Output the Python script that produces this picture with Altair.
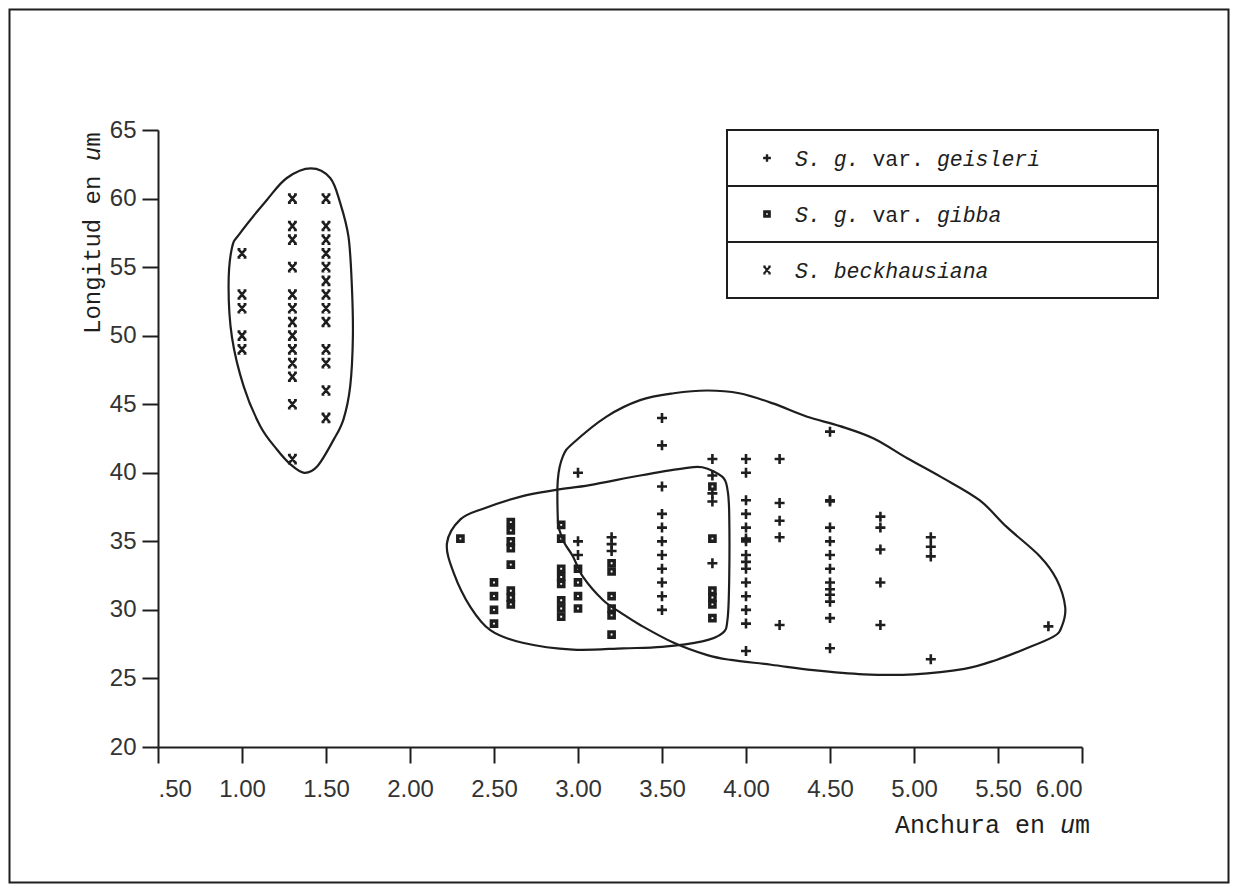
import altair as alt
import pandas as pd

# ---------------- data ----------------
# S. beckhausiana
beck_x = [1.0, 1.0, 1.0, 1.0, 1.0,
          1.3, 1.3, 1.3, 1.3, 1.3, 1.3, 1.3, 1.3, 1.3, 1.3, 1.3, 1.3, 1.3,
          1.5, 1.5, 1.5, 1.5, 1.5, 1.5, 1.5, 1.5, 1.5, 1.5, 1.5, 1.5, 1.5]
beck_y = [56, 53, 52, 50, 49,
          60, 58, 57, 55, 53, 52, 51, 50, 49, 48, 47, 45, 41,
          60, 58, 57, 56, 55, 54, 53, 52, 51, 49, 48, 46, 44]

# S. g. var. gibba
gibba_x = [2.3,
           2.5, 2.5, 2.5, 2.5,
           2.6, 2.6, 2.6, 2.6, 2.6, 2.6, 2.6, 2.6,
           2.9, 2.9, 2.9, 2.9, 2.9, 2.9, 2.9, 2.9,
           3.0, 3.0, 3.0, 3.0,
           3.2, 3.2, 3.2, 3.2, 3.2, 3.2,
           3.8, 3.8, 3.8, 3.8, 3.8, 3.8]
gibba_y = [35.2,
           32.0, 31.0, 30.0, 29.0,
           36.4, 35.8, 35.0, 34.5, 33.3, 31.4, 30.9, 30.4,
           36.2, 35.2, 33.0, 32.4, 31.9, 30.7, 30.1, 29.5,
           33.0, 32.0, 31.0, 30.1,
           33.4, 32.8, 31.0, 30.1, 29.6, 28.2,
           39.0, 35.2, 31.4, 30.9, 30.4, 29.4]

# S. g. var. geisleri
geis_x = [3.0, 3.0, 3.0,
          3.2, 3.2, 3.2,
          3.5, 3.5, 3.5, 3.5, 3.5, 3.5, 3.5, 3.5, 3.5, 3.5, 3.5,
          3.8, 3.8, 3.8, 3.8, 3.8,
          4.0, 4.0, 4.0, 4.0, 4.0, 4.0, 4.0, 4.0, 4.0, 4.0, 4.0, 4.0, 4.0, 4.0, 4.0,
          4.2, 4.2, 4.2, 4.2, 4.2,
          4.5, 4.5, 4.5, 4.5, 4.5, 4.5, 4.5, 4.5, 4.5, 4.5, 4.5, 4.5, 4.5,
          4.8, 4.8, 4.8, 4.8, 4.8,
          5.1, 5.1, 5.1, 5.1,
          5.8]
geis_y = [40, 35, 34,
          35.3, 34.8, 34.3,
          44, 42, 39, 37, 36, 35, 34, 33, 32, 31, 30,
          41, 39.8, 38.5, 37.9, 33.4,
          41, 40, 38, 37, 36, 35.2, 35.0, 34.0, 33.5, 33.0, 32, 31, 30, 29, 27,
          41, 37.8, 36.5, 35.3, 28.9,
          43, 38, 37.9, 36, 35, 34, 33, 32, 31.5, 31.1, 30.6, 29.4, 27.2,
          36.8, 36.0, 34.4, 32.0, 28.9,
          35.3, 34.6, 33.9, 26.4,
          28.8]

# hand-drawn outlines around the groups (data units)
hull_beck_x = [1.41, 1.525, 1.584, 1.634, 1.654, 1.66, 1.644, 1.604, 1.545, 1.45,
               1.37, 1.29, 1.208, 1.109, 1.01, 0.94, 0.92, 0.94, 0.99, 1.148, 1.267]
hull_beck_y = [62.2, 61.5, 59.7, 57.2, 53.6, 49.9, 46.3, 43.9, 42.4, 40.5,
               40.0, 40.6, 41.7, 43.4, 46.3, 49.9, 53.6, 56.4, 57.5, 59.9, 61.5]

hull_gibba_x = [2.22, 2.26, 2.36, 2.48, 2.67, 2.97, 3.27, 3.50, 3.74, 3.86, 3.89, 3.90,
                3.90, 3.89, 3.86, 3.74, 3.62, 3.37, 3.07, 2.87, 2.67, 2.44, 2.30]
hull_gibba_y = [34.86, 32.7, 30.2, 28.5, 27.6, 27.1, 27.2, 27.3, 27.7, 28.3, 29.3, 32.2,
                37.05, 38.75, 39.7, 40.4, 40.3, 39.8, 39.1, 38.75, 38.3, 37.4, 36.6]

hull_geis_x = [2.88, 2.88, 2.91, 2.97, 3.17, 3.37, 3.57, 3.77, 3.96, 4.16, 4.36, 4.56,
               4.76, 4.96, 5.16, 5.39, 5.55, 5.75, 5.85, 5.90, 5.88, 5.83, 5.65, 5.49,
               5.30, 5.00, 4.70, 4.40, 4.15, 3.91, 3.77, 3.57, 3.37, 3.26, 3.15, 3.03,
               2.97, 2.92, 2.89]
hull_geis_y = [36.56, 39.5, 41.2, 42.15, 44.1, 45.3, 45.8, 46.0, 45.8, 45.06, 44.1, 43.4,
               42.5, 41.06, 39.7, 38.0, 36.07, 33.9, 32.2, 30.2, 28.8, 28.05, 27.1, 26.35,
               25.7, 25.3, 25.3, 25.6, 26.0, 26.35, 26.7, 27.6, 28.9, 29.75, 30.7, 32.4,
               33.9, 34.86, 35.8]

x_ticks = [0.5, 1.0, 1.5, 2.0, 2.5, 3.0, 3.5, 4.0, 4.5, 5.0, 5.5, 6.0]
y_ticks = [20, 25, 30, 35, 40, 45, 50, 55, 60, 65]

legend_names = ["S. g. var. geisleri", "S. g. var. gibba", "S. beckhausiana"]
# legend text pieces: (row, char column, text, italic?)
leg_text = [(0, 0, "S.", True), (0, 3, "g.", True), (0, 6, "var.", False), (0, 11, "geisleri", True),
            (1, 0, "S.", True), (1, 3, "g.", True), (1, 6, "var.", False), (1, 11, "gibba", True),
            (2, 0, "S.", True), (2, 3, "beckhausiana", True)]
xtitle_text = [(0, "Anchura", False), (8, "en", False), (11, "u", True), (12, "m", False)]
ytitle_text = [(0, "Longitud", False), (9, "en", False), (12, "u", True), (13, "m", False)]

# ---------------- layout ----------------
W, H = 924, 617
PL, PT = 150, 122
TW, TH = 1222, 876
PR, PB = TW - PL - W, TH - PT - H
INK = "#1e1e1e"
MONO = "Liberation Mono"

LEG_X0, LEG_X1, LEG_ROW = 569, 1000, 56
LEG_SYM_X, LEG_TXT_X = 609, 637
LEG_FS = 21.5
XT_FS = 25
YT_FS = 24

x_scale = alt.Scale(domain=[0.5, 6.0], nice=False, zero=False)
y_scale = alt.Scale(domain=[20, 65], nice=False, zero=False)
x_enc = alt.X("x:Q", scale=x_scale,
              axis=alt.Axis(values=x_ticks, title=None, labelPadding=14,
                            labelExpr="datum.value < 1 ? substring(format(datum.value, '.2f'), 1) : format(datum.value, '.2f')"))
y_enc = alt.Y("y:Q", scale=y_scale, axis=alt.Axis(values=y_ticks, title=None, labelPadding=6))

plus_path = "M-1,0L1,0M0,-1L0,1"
xbar_path = "M-0.75,-0.9L0.75,0.9M0.75,-0.9L-0.75,0.9M-1,-0.9L-0.35,-0.9M0.35,-0.9L1,-0.9M-1,0.9L-0.35,0.9M0.35,0.9L1,0.9"

one = pd.DataFrame({"a": [0]})

frame = alt.Chart(one).mark_rect(filled=False, stroke=INK, strokeWidth=2).encode(
    x=alt.value(-PL + 1.5), x2=alt.value(W + PR - 1.5),
    y=alt.value(-PT + 1.5), y2=alt.value(H + PB - 1.5))

hull_df = pd.concat([
    pd.DataFrame({"x": hull_beck_x, "y": hull_beck_y, "h": "beck", "i": list(range(len(hull_beck_x)))}),
    pd.DataFrame({"x": hull_gibba_x, "y": hull_gibba_y, "h": "gibba", "i": list(range(len(hull_gibba_x)))}),
    pd.DataFrame({"x": hull_geis_x, "y": hull_geis_y, "h": "geis", "i": list(range(len(hull_geis_x)))}),
])
hulls = alt.Chart(hull_df).mark_line(interpolate="cardinal-closed", color=INK, strokeWidth=2.2).encode(
    x=x_enc, y=y_enc, detail="h:N", order="i:Q")

geis = alt.Chart(pd.DataFrame({"x": geis_x, "y": geis_y})).mark_point(
    shape=plus_path, filled=False, color=INK, strokeWidth=2.6, size=100, opacity=1).encode(x=x_enc, y=y_enc)
gibba = alt.Chart(pd.DataFrame({"x": gibba_x, "y": gibba_y})).mark_point(
    shape="square", filled=False, color=INK, strokeWidth=3.4, size=28, opacity=1).encode(x=x_enc, y=y_enc)
beck = alt.Chart(pd.DataFrame({"x": beck_x, "y": beck_y})).mark_point(
    shape=xbar_path, filled=False, color=INK, strokeWidth=2.6, size=80, opacity=1).encode(x=x_enc, y=y_enc)

# legend box
leg_rows = pd.DataFrame({"name": legend_names, "row": [0, 1, 2]})
leg_box = alt.Chart(leg_rows).mark_rect(fill="white", stroke=INK, strokeWidth=2).transform_calculate(
    y0=f"datum.row * {LEG_ROW}", y1=f"(datum.row + 1) * {LEG_ROW}").encode(
    x=alt.value(LEG_X0), x2=alt.value(LEG_X1),
    y=alt.Y("y0:Q", scale=None), y2="y1:Q")

def leg_sym(row, **kw):
    return alt.Chart(one).mark_point(filled=False, color=INK, opacity=1, **kw).encode(
        x=alt.value(LEG_SYM_X), y=alt.value(row * LEG_ROW + LEG_ROW / 2))

leg_syms = [leg_sym(0, shape=plus_path, strokeWidth=2.4, size=60),
            leg_sym(1, shape="square", strokeWidth=3, size=22),
            leg_sym(2, shape=xbar_path, strokeWidth=2.2, size=55)]

leg_df = pd.DataFrame(leg_text, columns=["row", "col", "t", "it"])

def leg_txt(italic):
    d = leg_df[leg_df["it"] == italic]
    return alt.Chart(d).mark_text(align="left", baseline="alphabetic", font=MONO, fontSize=LEG_FS,
                                  fontStyle="italic" if italic else "normal", color=INK).transform_calculate(
        px=f"{LEG_TXT_X} + datum.col * {0.6 * LEG_FS}",
        py=f"datum.row * {LEG_ROW} + {LEG_ROW / 2 + 8}").encode(
        x=alt.X("px:Q", scale=None), y=alt.Y("py:Q", scale=None), text="t:N")

xt_df = pd.DataFrame(xtitle_text, columns=["col", "t", "it"])
yt_df = pd.DataFrame(ytitle_text, columns=["col", "t", "it"])

def xt(italic):
    d = xt_df[xt_df["it"] == italic]
    return alt.Chart(d).mark_text(align="left", baseline="alphabetic", font=MONO, fontSize=XT_FS,
                                  fontStyle="italic" if italic else "normal", color=INK).transform_calculate(
        px=f"737 + datum.col * {0.6 * XT_FS}").encode(
        x=alt.X("px:Q", scale=None), y=alt.value(703), text="t:N")

def yt(italic):
    d = yt_df[yt_df["it"] == italic]
    return alt.Chart(d).mark_text(align="left", baseline="alphabetic", font=MONO, fontSize=YT_FS, angle=270,
                                  fontStyle="italic" if italic else "normal", color=INK).transform_calculate(
        py=f"204 - datum.col * {0.6 * YT_FS}").encode(
        x=alt.value(-58), y=alt.Y("py:Q", scale=None), text="t:N")

chart = alt.layer(
    frame, hulls, geis, gibba, beck, leg_box, *leg_syms,
    leg_txt(True), leg_txt(False), xt(True), xt(False), yt(True), yt(False)
).properties(
    width=W, height=H,
    autosize=alt.AutoSizeParams(type="none"),
    padding={"left": PL, "top": PT, "right": PR, "bottom": PB},
    background="white",
).configure_view(stroke=None).configure_axis(
    grid=False, domainColor=INK, domainWidth=2, tickColor=INK, tickWidth=2, tickSize=16,
    labelFont="Liberation Sans", labelFontSize=24, labelColor="#333333",
)

chart.save("out.html", embed_options={"renderer": "svg", "actions": False})
